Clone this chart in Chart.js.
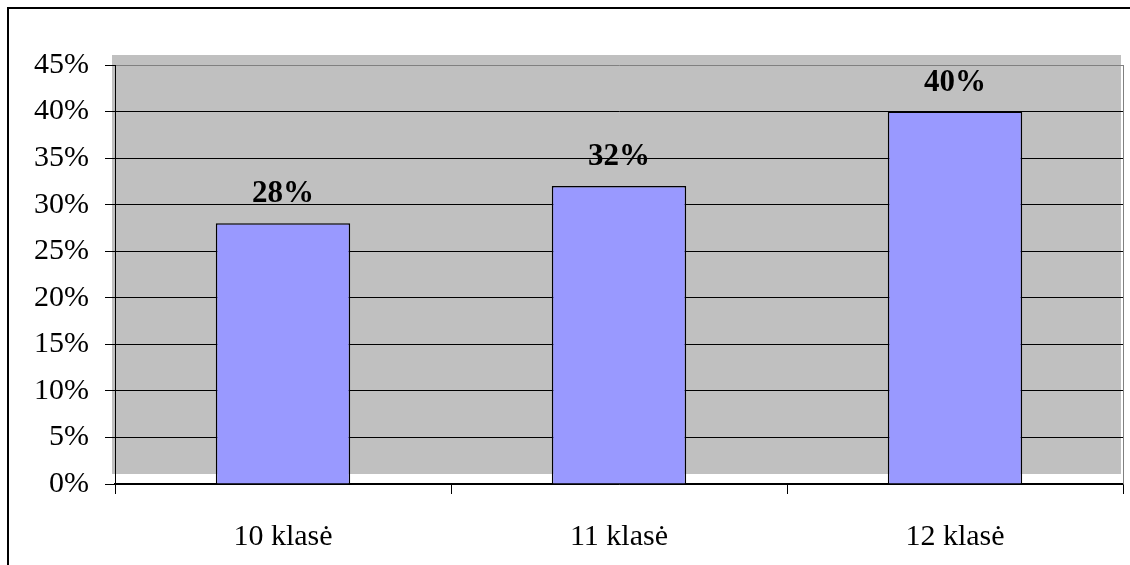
<!DOCTYPE html>
<html>
<head>
<meta charset="utf-8">
<script src="https://cdn.jsdelivr.net/npm/chart.js@4/dist/chart.umd.min.js"></script>
<style>
  html, body { margin: 0; padding: 0; background: #fff; overflow: hidden; }
  #frame { position: absolute; left: 7px; top: 7px; width: 1300px; height: 700px; border: 2px solid #000; box-sizing: border-box; }
  #c { position: absolute; left: 0; top: 0; }
</style>
</head>
<body>
<div id="frame"></div>
<canvas id="c" width="1130" height="565"></canvas>
<script>
const categories = ['10 klasė', '11 klasė', '12 klasė'];
const values = [28, 32, 40];
const yMin = 0, yMax = 45, yStep = 5;

const plotBg = {
  id: 'plotBg',
  beforeDraw(chart) {
    const { ctx, chartArea: a } = chart;
    ctx.save();
    ctx.fillStyle = '#C0C0C0';
    ctx.fillRect(a.left - 3, a.top - 10, (a.right - 2) - (a.left - 3), a.bottom - a.top);
    ctx.restore();
  },
  beforeDatasetsDraw(chart) {
    const { ctx, chartArea: a } = chart;
    ctx.save();
    ctx.strokeStyle = '#808080';
    ctx.lineWidth = 1;
    ctx.beginPath();
    ctx.moveTo(a.right + 0.5, a.top);
    ctx.lineTo(a.right + 0.5, a.bottom);
    ctx.stroke();
    ctx.restore();
  }
};

const valueLabels = {
  id: 'valueLabels',
  afterDatasetsDraw(chart) {
    const { ctx } = chart;
    const meta = chart.getDatasetMeta(0);
    ctx.save();
    ctx.font = 'bold 31px "Liberation Serif", "Times New Roman", serif';
    ctx.fillStyle = '#000';
    ctx.textAlign = 'center';
    ctx.textBaseline = 'alphabetic';
    meta.data.forEach((bar, i) => {
      ctx.fillText(values[i] + '%', bar.x, bar.y - 21);
    });
    ctx.restore();
  }
};

new Chart(document.getElementById('c'), {
  type: 'bar',
  data: {
    labels: categories,
    datasets: [{
      data: values,
      backgroundColor: '#9999FF',
      borderColor: '#000',
      borderWidth: 1.5,
      categoryPercentage: 1,
      barPercentage: 0.4
    }]
  },
  options: {
    responsive: false,
    animation: false,
    devicePixelRatio: 1,
    layout: { padding: { left: 0, top: 65, right: 7, bottom: 0 } },
    plugins: { legend: { display: false }, tooltip: { enabled: false } },
    scales: {
      y: {
        min: yMin, max: yMax,
        ticks: {
          stepSize: yStep,
          padding: 16,
          color: '#000',
          font: { family: '"Liberation Serif", "Times New Roman", serif', size: 30 },
          callback: v => v + '%'
        },
        grid: {
          color: ctx => (ctx.tick && ctx.tick.value === yMax) ? '#808080' : '#000',
          lineWidth: 1,
          tickLength: 10,
          tickColor: '#000'
        },
        border: { display: true, color: '#000', width: 1 },
        afterFit(scale) { scale.width = 115; }
      },
      x: {
        offset: true,
        ticks: {
          padding: 25,
          color: '#000',
          font: { family: '"Liberation Serif", "Times New Roman", serif', size: 30 }
        },
        grid: {
          offset: true,
          drawOnChartArea: false,
          tickLength: 10,
          tickColor: '#000',
          lineWidth: 1
        },
        border: { display: true, color: '#000', width: 1.5 },
        afterFit(scale) { scale.height = 81; }
      }
    }
  },
  plugins: [plotBg, valueLabels]
});
</script>
</body>
</html>
